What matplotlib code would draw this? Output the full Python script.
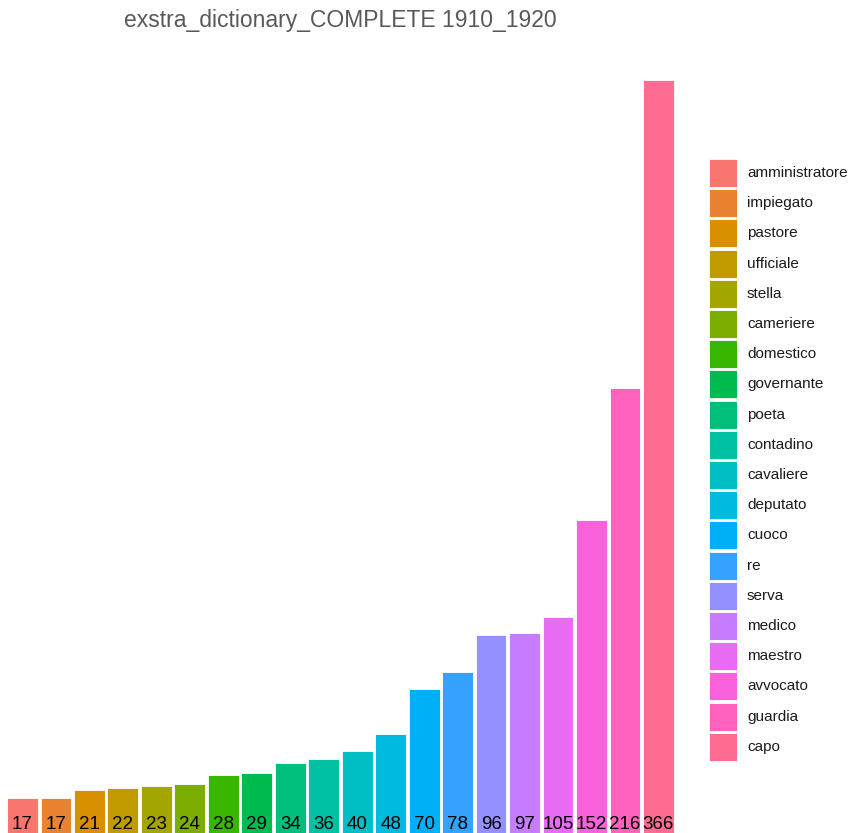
import matplotlib
matplotlib.use("Agg")
import matplotlib.pyplot as plt
from matplotlib.patches import Rectangle

categories = ["amministratore", "impiegato", "pastore", "ufficiale", "stella",
              "cameriere", "domestico", "governante", "poeta", "contadino",
              "cavaliere", "deputato", "cuoco", "re", "serva", "medico",
              "maestro", "avvocato", "guardia", "capo"]
values = [17, 17, 21, 22, 23, 24, 28, 29, 34, 36, 40, 48, 70, 78, 96, 97, 105, 152, 216, 366]
colors = ["#F8766D", "#EA8331", "#D89000", "#C09B00", "#A3A500", "#7CAE00",
          "#39B600", "#00BB4E", "#00BF7D", "#00C1A3", "#00BFC4", "#00BAE0",
          "#00B0F6", "#35A2FF", "#9590FF", "#C77CFF", "#E76BF3", "#FA62DB",
          "#FF62BC", "#FF6C91"]
title = "exstra_dictionary_COMPLETE 1910_1920"

plt.rcParams['font.family'] = ['Liberation Sans', 'DejaVu Sans']
W, H = 852, 833
fig = plt.figure(figsize=(W / 100, H / 100), dpi=100)

# axes: left 2.4 px, right 678.5 px, bottom 833, top 42
ax = fig.add_axes([2.4 / W, 0.0, (678.5 - 2.4) / W, (833 - 42) / H])
x = list(range(1, len(values) + 1))
ax.bar(x, values, width=0.92, color=colors, edgecolor="white", linewidth=0.6)
ax.set_xlim(0.4, 20.6)
ax.set_ylim(0, 366 * 1.05)
ax.axis("off")
for xi, v in zip(x, values):
    ax.annotate(str(v), (xi, 0), xytext=(0, 3), textcoords="offset points",
                ha="center", va="baseline", fontsize=13.5, color="black")

fig.text(340 / W, 1 - 20 / H, title, ha="center", va="center",
         fontsize=16.5, color="#595959")

# legend
key_x, key_w, key_h, pitch, y0 = 709, 28, 28, 30.2, 159
for i, (c, lab) in enumerate(zip(colors, categories)):
    top = y0 + i * pitch
    fig.patches.append(Rectangle((key_x / W, 1 - (top + key_h) / H), key_w / W, key_h / H,
                                 transform=fig.transFigure, facecolor=c,
                                 edgecolor="white", linewidth=0.6))
    fig.text(747 / W, 1 - (top + key_h / 2) / H, lab, ha="left", va="center",
             fontsize=11, color="#1a1a1a")

fig.savefig("out.png", dpi=100)
